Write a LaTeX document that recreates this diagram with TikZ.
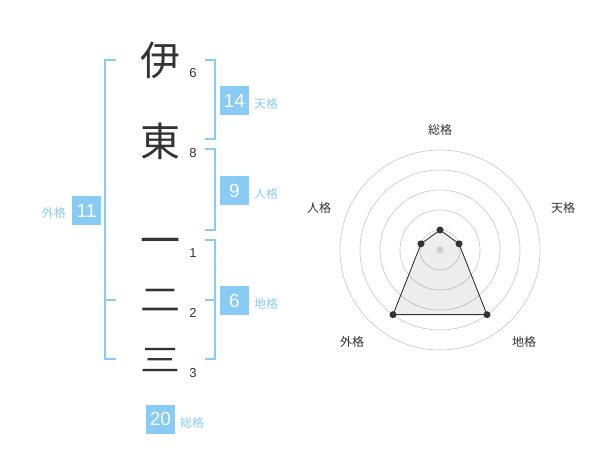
\documentclass[tikz,border=0pt]{standalone}
\usepackage{fontspec}
\setmainfont{Liberation Sans}
\newfontfamily\cjk{Noto Sans CJK JP}
\definecolor{skyb}{HTML}{88CCF5}
\definecolor{ink}{HTML}{333333}
\definecolor{ring}{HTML}{CCCCCC}
\begin{document}
\begin{tikzpicture}[x=1pt,y=-1pt,
  kanji/.style={inner sep=0pt,text=ink,font=\cjk\fontsize{40}{40}\selectfont},
  stroke/.style={inner sep=0pt,text=ink,font=\fontsize{13}{13}\selectfont},
  valbox/.style={fill=skyb,text=white,minimum width=29pt,minimum height=29pt,inner sep=0pt,font=\fontsize{19}{19}\selectfont},
  vallabel/.style={inner sep=0pt,text=skyb,font=\cjk\fontsize{12}{12}\selectfont},
  bracket/.style={draw=skyb,line width=2pt},
  axlabel/.style={inner sep=0pt,text=ink,font=\cjk\fontsize{12}{12}\selectfont},
  dot/.style={circle,fill=ink,inner sep=0pt,minimum size=7pt}]
\useasboundingbox (0,0) rectangle (600,470);
% kanji
\node[kanji] (k1) at (160,60) {伊};
\node[kanji] (k2) at (160,141) {東};
\node[kanji] (k3) at (160,247) {一};
\node[kanji] (k4) at (160,300) {\scalebox{1}[0.8]{二}};
\node[kanji] (k5) at (160,360) {\scalebox{1}[0.78]{三}};
\node[stroke] (n1) at (193,73) {6};
\node[stroke] (n2) at (193,153) {8};
\node[stroke] (n3) at (193,253) {1};
\node[stroke] (n4) at (193,313) {2};
\node[stroke] (n5) at (193,373) {3};
% brackets
\draw[bracket] (116,60) -- (105,60) -- (105,359) -- (116,359);
\draw[bracket] (105,300) -- (116,300);
\draw[bracket] (205,60) -- (215,60) -- (215,139) -- (205,139);
\draw[bracket] (205,149) -- (215,149) -- (215,230) -- (205,230);
\draw[bracket] (205,240) -- (215,240) -- (215,359) -- (205,359);
\draw[bracket] (205,300) -- (215,300);
% value boxes
\node[valbox] (ten) at (234.5,100.5) {14};
\node[vallabel,anchor=west] (tenl) at (254,104) {天格};
\node[valbox] (jin) at (234.5,190.5) {9};
\node[vallabel,anchor=west] (jinl) at (254,194) {人格};
\node[valbox] (chi) at (234.5,300.5) {6};
\node[vallabel,anchor=west] (chil) at (254,304) {地格};
\node[valbox] (gai) at (86.5,210.5) {11};
\node[vallabel,anchor=east] (gail) at (66,213) {外格};
\node[valbox] (sou) at (160.5,419) {20};
\node[vallabel,anchor=west] (soul) at (180,423) {総格};
% radar
\foreach \r in {20,40,60,80,100} \draw[ring,line width=0.7pt] (440,250) circle (\r);
\coordinate (c) at (440,250);
\coordinate (p1) at (440,230);
\coordinate (p2) at (459.0,243.8);
\coordinate (p3) at (487.0,314.7);
\coordinate (p4) at (393.0,314.7);
\coordinate (p5) at (421.0,243.8);
\fill[black,opacity=0.07] (p1) -- (p2) -- (p3) -- (p4) -- (p5) -- cycle;
\draw[ink,line width=0.9pt,line join=round] (p1) -- (p2) -- (p3) -- (p4) -- (p5) -- cycle;
\node[circle,fill=ring,inner sep=0pt,minimum size=7pt] (cd) at (c) {};
\foreach \p in {p1,p2,p3,p4,p5} \node[dot] (d\p) at (\p) {};
\node[axlabel] (a1) at (440,130) {総格};
\node[axlabel] (a2) at (563,208) {天格};
\node[axlabel] (a3) at (319,208) {人格};
\node[axlabel] (a4) at (352,342) {外格};
\node[axlabel] (a5) at (524,342) {地格};
\end{tikzpicture}
\end{document}
